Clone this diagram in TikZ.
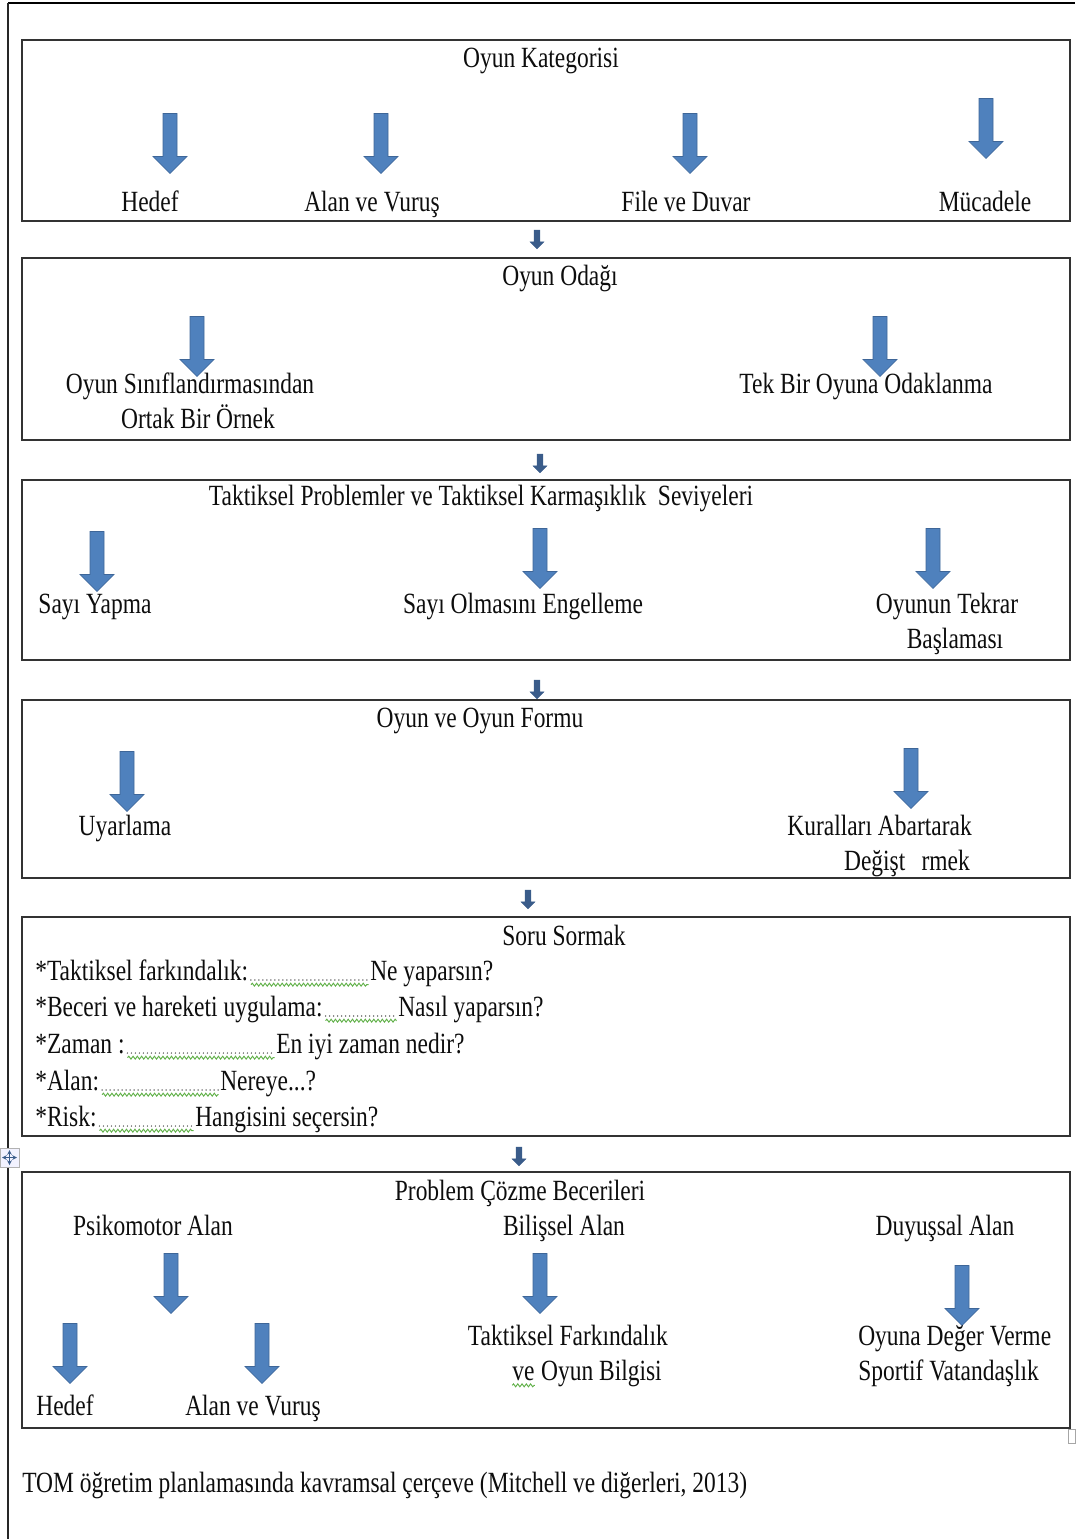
\documentclass[tikz,border=0pt]{standalone}
\usepackage{fontspec}
\setmainfont[FakeStretch=0.8]{Liberation Serif}
\usetikzlibrary{shapes.arrows,decorations.pathmorphing,positioning}

\definecolor{arrowblue}{RGB}{79,129,189}
\definecolor{arrowedge}{RGB}{62,102,152}
\definecolor{smallblue}{RGB}{58,92,138}
\definecolor{squig}{RGB}{96,176,72}

\begin{document}
\begin{tikzpicture}[x=0.75pt,y=-0.75pt]
\tikzstyle{txt}=[inner sep=0pt,font=\fontsize{22}{26}\selectfont,text=black!95]
\tikzstyle{frame}=[draw=black!80,line width=1.5pt]
\tikzstyle{bigarrow}=[single arrow,rotate=-90,fill=arrowblue,draw=arrowedge,line width=0.5pt,
  minimum height=45pt,minimum width=25pt,inner sep=5pt,single arrow head extend=7.5pt,
  single arrow head indent=0pt]
\tikzstyle{smallarrow}=[single arrow,rotate=-90,fill=smallblue,draw=smallblue,line width=0.3pt,
  minimum height=14pt,minimum width=10.5pt,inner sep=2pt,single arrow head extend=3pt,
  single arrow head indent=0pt]
\tikzstyle{dotrule}=[line width=1.1pt,line cap=round,dash pattern=on 0pt off 3pt,black!80]
\tikzstyle{squiggle}=[decorate,decoration={snake,amplitude=1.1pt,segment length=3.2pt},draw=squig,line width=0.7pt]

\useasboundingbox (0,0) rectangle (1075,1539);

% page border
\draw[line width=2.2pt] (8,3) -- (1075,3);
\draw[line width=1.4pt,black!85] (8,3) -- (8,1539);

% Oyun Kategorisi
\draw[frame] (22,40) rectangle (1070,221);
\node[txt,anchor=base] (K) at (541,67) {Oyun Kategorisi};
\node[bigarrow] (KA1) at (170,140) {};
\node[bigarrow] (KA2) at (381,140) {};
\node[bigarrow] (KA3) at (690,140) {};
\node[bigarrow] (KA4) at (986,125) {};
\node[txt,anchor=base] (K1) at (150,211) {Hedef};
\node[txt,anchor=base] (K2) at (372,211) {Alan ve Vuruş};
\node[txt,anchor=base] (K3) at (686,211) {File ve Duvar};
\node[txt,anchor=base] (K4) at (985,211) {Mücadele};

\node[smallarrow] (S1) at (537,238) {};

% Oyun Odagi
\draw[frame] (22,258) rectangle (1070,440);
\node[txt,anchor=base] (O) at (560,285) {Oyun Odağı};
\node[bigarrow] (OA1) at (197,343) {};
\node[bigarrow] (OA2) at (880,343) {};
\node[txt,anchor=base] (O1) at (190,393) {Oyun Sınıflandırmasından};
\node[txt,anchor=base] (O1b) at (198,428) {Ortak Bir Örnek};
\node[txt,anchor=base] (O2) at (866,393) {Tek Bir Oyuna Odaklanma};

\node[smallarrow] (S2) at (540,462) {};

% Taktiksel Problemler
\draw[frame] (22,480) rectangle (1070,660);
\node[txt,anchor=base] (T) at (481,505) {Taktiksel Problemler ve Taktiksel Karmaşıklık\ \ Seviyeleri};
\node[bigarrow] (TA1) at (97,558) {};
\node[bigarrow] (TA2) at (540,555) {};
\node[bigarrow] (TA3) at (933,555) {};
\node[txt,anchor=base] (T1) at (95,613) {Sayı Yapma};
\node[txt,anchor=base] (T2) at (523,613) {Sayı Olmasını Engelleme};
\node[txt,anchor=base] (T3) at (947,613) {Oyunun Tekrar};
\node[txt,anchor=base] (T3b) at (955,648) {Başlaması};

\node[smallarrow] (S3) at (537,688) {};

% Oyun ve Oyun Formu
\draw[frame] (22,700) rectangle (1070,878);
\node[txt,anchor=base] (F) at (480,727) {Oyun ve Oyun Formu};
\node[bigarrow] (FA1) at (127,778) {};
\node[bigarrow] (FA2) at (911,775) {};
\node[txt,anchor=base] (F1) at (125,835) {Uyarlama};
\node[txt,anchor=base east] (F2) at (972,835) {Kuralları Abartarak};
\node[txt,anchor=base east] (F2b) at (970,870) {Değişt\hspace{0.55em}rmek};

\node[smallarrow] (S4) at (528,898) {};

% Soru Sormak
\draw[frame] (22,917) rectangle (1070,1136);
\node[txt,anchor=base] (Q) at (564,945) {Soru Sormak};
\node[txt,anchor=base west] (Q1) at (35,980) {*Taktiksel farkındalık:};
\node[txt,anchor=base west] (Q1e) at (370,980) {Ne yaparsın?};
\node[txt,anchor=base west] (Q2) at (35,1016) {*Beceri ve hareketi uygulama:};
\node[txt,anchor=base west] (Q2e) at (398,1016) {Nasıl yaparsın?};
\node[txt,anchor=base west] (Q3) at (35,1053) {*Zaman :};
\node[txt,anchor=base west] (Q3e) at (276,1053) {En iyi zaman nedir?};
\node[txt,anchor=base west] (Q4) at (35,1090) {*Alan:};
\node[txt,anchor=base west] (Q4e) at (220,1090) {Nereye...?};
\node[txt,anchor=base west] (Q5) at (35,1126) {*Risk:};
\node[txt,anchor=base west] (Q5e) at (195,1126) {Hangisini seçersin?};
\foreach \q in {Q1,Q2,Q3,Q4,Q5}{
  \draw[dotrule] ([xshift=2pt]\q.base east) -- ([xshift=-1pt]\q e.base west);
  \draw[squiggle] ([xshift=2pt,yshift=-3.5pt]\q.base east) -- ([xshift=-1pt,yshift=-3.5pt]\q e.base west);
}

% table handle
\draw[black!30,fill=blue!5] (0,1148) rectangle (19,1167);
\draw[smallblue,line width=0.6pt,<->,>=stealth] (2,1157.5) -- (17,1157.5);
\draw[smallblue,line width=0.6pt,<->,>=stealth] (9.5,1150) -- (9.5,1165);

\node[smallarrow] (S5) at (519,1155) {};

% Problem Cozme Becerileri
\draw[frame] (22,1172) rectangle (1070,1428);
\node[txt,anchor=base] (P) at (520,1200) {Problem Çözme Becerileri};
\node[txt,anchor=base] (P1) at (153,1235) {Psikomotor Alan};
\node[txt,anchor=base] (P2) at (564,1235) {Bilişsel Alan};
\node[txt,anchor=base] (P3) at (945,1235) {Duyuşsal Alan};
\node[bigarrow] (PA1) at (171,1280) {};
\node[bigarrow] (PA2) at (540,1280) {};
\node[bigarrow] (PA3) at (962,1292) {};
\node[bigarrow] (PA4) at (70,1350) {};
\node[bigarrow] (PA5) at (262,1350) {};
\node[txt,anchor=base east] (P21) at (668,1345) {Taktiksel Farkındalık};
\node[txt,anchor=base east] (P22) at (662,1380) {Oyun Bilgisi};
\node[txt,anchor=base east] (P22v) at ([xshift=-4.5pt]P22.base west) {ve};
\draw[squiggle] ([yshift=-4pt]P22v.base west) -- ([yshift=-4pt]P22v.base east);
\node[txt,anchor=base west] (P31) at (858,1345) {Oyuna Değer Verme};
\node[txt,anchor=base west] (P32) at (858,1380) {Sportif Vatandaşlık};
\node[txt,anchor=base] (P11) at (65,1415) {Hedef};
\node[txt,anchor=base] (P12) at (253,1415) {Alan ve Vuruş};
\draw[black!35] (1068,1429) rectangle (1075,1443);

% caption
\node[txt,anchor=base west] (C) at (22,1492) {TOM öğretim planlamasında kavramsal çerçeve (Mitchell ve diğerleri, 2013)};
\end{tikzpicture}
\end{document}
